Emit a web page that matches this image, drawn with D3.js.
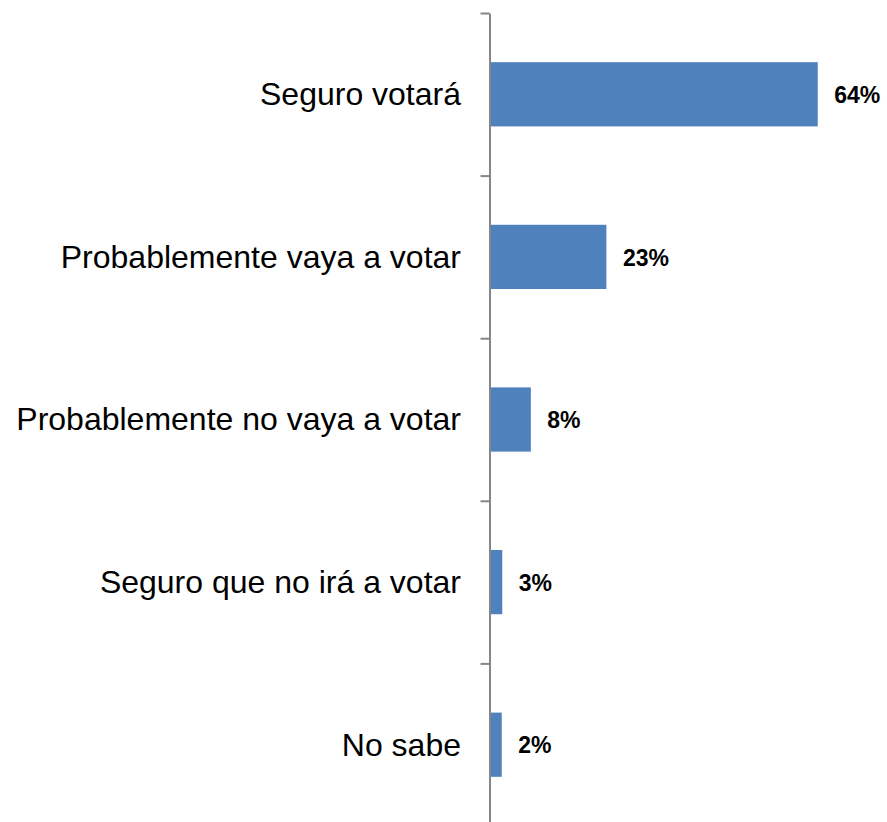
<!DOCTYPE html>
<html>
<head>
<meta charset="utf-8">
<script src="https://cdn.jsdelivr.net/npm/d3@7"></script>
<style>
  html, body { margin: 0; padding: 0; background: #ffffff; }
  svg { display: block; }
</style>
</head>
<body>
<div id="chart"></div>
<script>
const categories = [
  "Seguro votará",
  "Probablemente vaya a votar",
  "Probablemente no vaya a votar",
  "Seguro que no irá a votar",
  "No sabe"
];
const values = [64.1, 22.7, 7.9, 2.3, 2.2];
const valueLabels = ["64%", "23%", "8%", "3%", "2%"];

const W = 887, H = 822;
const axisX = 489.5;
const plotTop = 13, plotBottom = 826;

const svg = d3.select("#chart").append("svg")
  .attr("width", W).attr("height", H);

const y = d3.scaleBand()
  .domain(categories)
  .range([plotTop, plotBottom])
  .paddingInner(0.605)
  .paddingOuter(0.3025);

const yEdges = d3.scaleLinear()
  .domain([0, categories.length])
  .range([plotTop, plotBottom]);

const x = d3.scaleLinear()
  .domain([0, 70])
  .range([490.5, 490.5 + 70 * 5.105]);

// bars
svg.append("g").selectAll("rect")
  .data(categories)
  .join("rect")
  .attr("x", x(0))
  .attr("y", d => y(d))
  .attr("width", (d, i) => x(values[i]) - x(0))
  .attr("height", y.bandwidth())
  .attr("fill", "#4F81BD");

// axis
const axis = d3.axisLeft(yEdges)
  .tickValues(d3.range(0, categories.length + 1))
  .tickFormat("")
  .tickSize(9)
  .tickSizeOuter(0);

const gAxis = svg.append("g")
  .attr("transform", `translate(${axisX},0)`)
  .call(axis);
gAxis.select(".domain").attr("stroke", "#868686").attr("stroke-width", 2);
gAxis.selectAll(".tick line").attr("stroke", "#868686").attr("stroke-width", 2);

// category labels
svg.append("g").selectAll("text")
  .data(categories)
  .join("text")
  .attr("x", 461)
  .attr("y", d => y(d) + y.bandwidth() / 2)
  .attr("dy", "0.34em")
  .attr("text-anchor", "end")
  .attr("font-family", "Liberation Sans, Arial, sans-serif")
  .attr("font-size", "32px")
  .attr("fill", "#000")
  .text(d => d);

// value labels
svg.append("g").selectAll("text")
  .data(categories)
  .join("text")
  .attr("x", (d, i) => x(values[i]) + 16.5)
  .attr("y", d => y(d) + y.bandwidth() / 2)
  .attr("dy", "0.38em")
  .attr("text-anchor", "start")
  .attr("font-family", "Liberation Sans, Arial, sans-serif")
  .attr("font-weight", "bold")
  .attr("font-size", "23px")
  .attr("fill", "#000")
  .text((d, i) => valueLabels[i]);
</script>
</body>
</html>
